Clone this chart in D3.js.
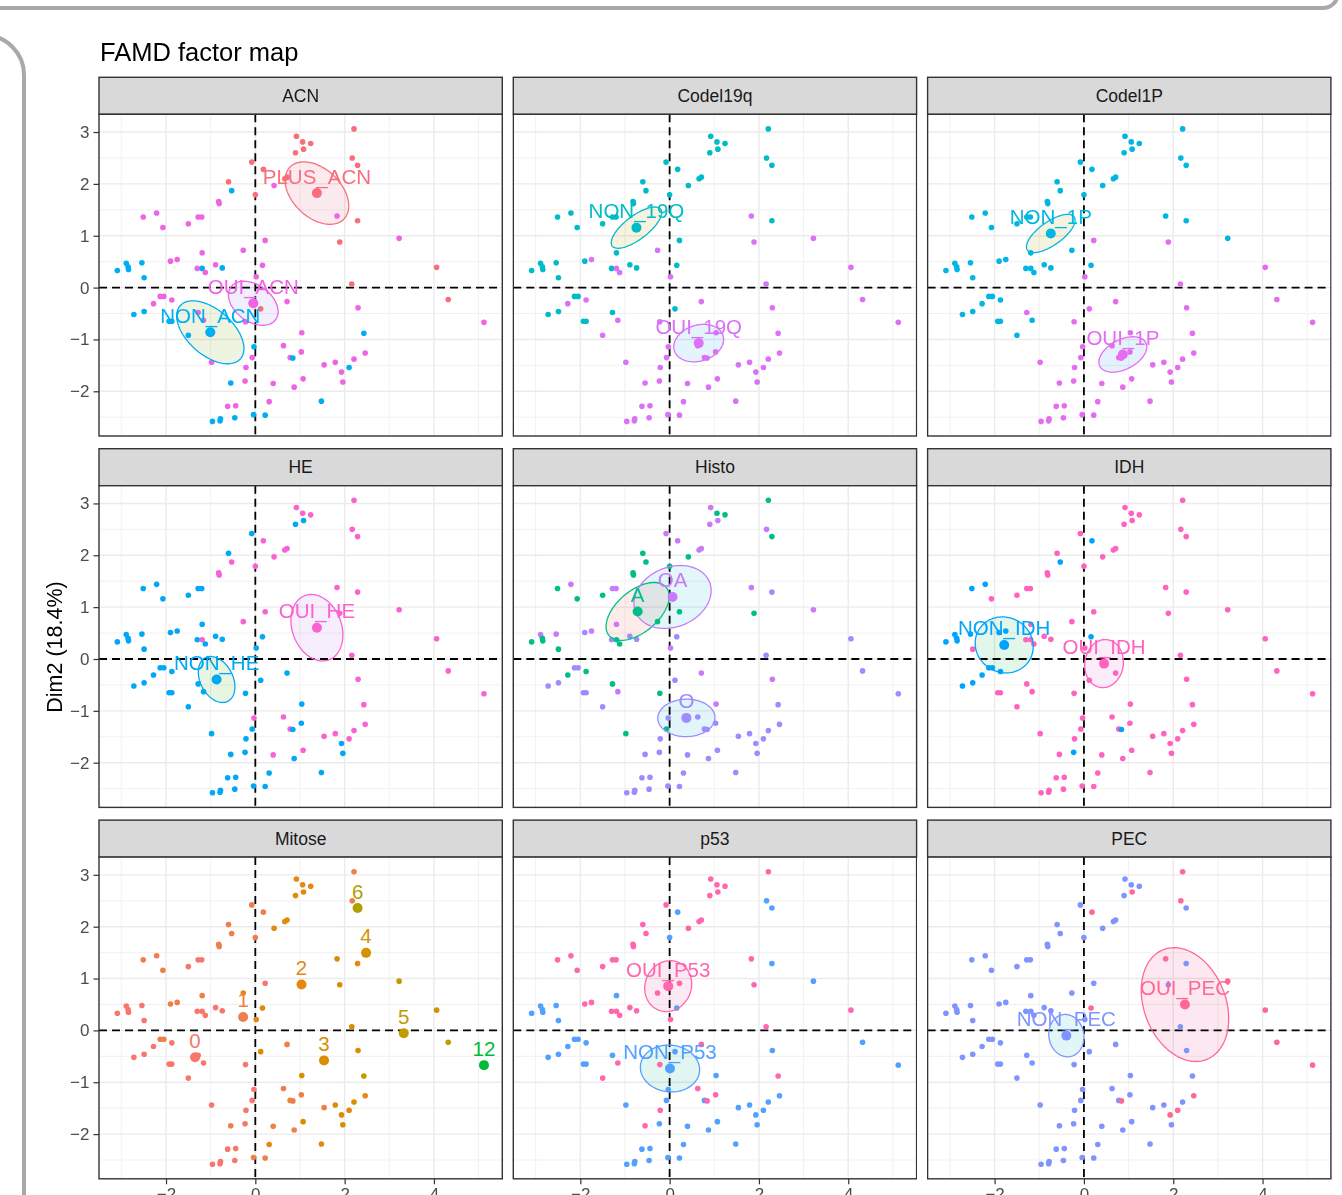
<!DOCTYPE html>
<html>
<head>
<meta charset="utf-8">
<script src="https://cdn.jsdelivr.net/npm/d3@7"></script>
<style>
  body { margin: 0; background: #fff; }
  svg { display: block; font-family: "Liberation Sans", Arial, sans-serif; }
</style>
</head>
<body>
<svg id="chart" width="1342" height="1195"></svg>
<script>
// individual coordinates on the first two FAMD dimensions
var dim1 = [2.21,0.92,1.06,1.24,0.90,1.08,2.17,2.29,-0.08,0.18,
  -0.60,-0.53,0.00,0.42,0.66,0.71,-0.82,-0.81,-2.21,-2.51,
  -2.07,-1.50,-1.28,-1.20,-1.19,0.22,2.29,1.83,1.89,3.22,
  -0.27,0.16,-1.75,-1.90,-2.54,-2.89,-2.85,-2.84,-3.09,-2.49,
  -1.30,-1.19,-1.12,-0.89,-0.74,0.02,2.16,4.06,4.32,5.12,
  0.71,2.30,0.12,-2.13,-2.05,-1.87,-2.28,-2.72,-2.49,-1.93,
  -1.87,-1.28,-1.16,-1.50,-0.22,1.04,2.43,-0.03,-0.07,1.03,
  2.46,0.78,0.84,-0.98,-0.21,1.54,1.79,2.21,2.10,1.93,
  1.96,-0.55,-0.23,0.40,1.07,0.87,0.31,1.48,-0.62,-0.44,
  -0.96,-0.79,-0.78,-0.46,-0.04,0.22,0.63];
var dim2 = [3.06,2.92,2.81,2.78,2.60,2.67,2.50,2.36,2.42,2.28,
  2.04,1.87,1.79,1.97,2.10,2.13,1.66,1.62,1.44,1.36,
  1.16,1.23,1.36,1.36,0.67,0.91,1.29,1.38,0.88,0.95,
  0.72,0.43,0.54,0.51,0.48,0.47,0.40,0.35,0.33,0.19,
  0.37,0.37,0.29,0.44,0.38,0.21,0.07,0.39,-0.23,-0.67,
  -0.27,-0.39,-0.41,-0.17,-0.17,-0.24,-0.31,-0.52,-0.46,-0.65,
  -0.65,-0.48,-0.63,-0.92,-0.66,-0.87,-0.88,-1.14,-1.35,-1.24,
  -1.26,-1.35,-1.36,-1.44,-1.54,-1.49,-1.44,-1.38,-1.54,-1.63,
  -1.82,-1.84,-1.80,-1.85,-1.76,-1.92,-2.20,-2.19,-2.29,-2.28,
  -2.58,-2.57,-2.53,-2.51,-2.45,-2.46,-1.12];

// one code per individual for each qualitative variable (10 individuals per chunk)
var acn = ["PPPPPPPPPP","PNPOPPOOOO","OOOOOOPOPO","OOOONNNNNN","ONOONOPPPO",
  "OOPOOOONNN","NOONOONNOO","OONOOOOONO","ONOOOOONOO","NNNNNNO"].join("");
var codel19q = ["NNNNNNNNNN","NNNNNNNNNN","NNNNNNNOOO","ONONNNNNNN","NOONNOOOOO",
  "OONNNOONNN","NNOOOOOOOO","OOOOOOOOOO","OOOOOOOOOO","OOOOOOO"].join("");
var codel1p = ["NNNNNNNNNN","NNNNNNNNNN","NNNNNONNON","NNNNNNNNNN","NNNNNOOOOO",
  "OOONNNNNNN","NONNOOOOOO","OOOOOOOOOO","OOOOOOOOOO","OOOOOOO"].join("");
var he = ["OOOONNOONO","NOOOOOOONN","NNNNNOOOOO","ONNNNNNNNN","NONNNNOOOO",
  "NONNNNNNNN","NNNNNNOONN","OONNNOOOON","NNNOONNNNN","NNNNNNO"].join("");
var histo = ["AVAAVVVAVV","AAAAVVAAVA","AAVVVAOVAV","AOVOVVAAAA","OAAOOVOOOO",
  "VVOOOAAOOO","OAVOAVOOAO","OOOAOOOOOO","OOOOOOOOOO","OOOOOOO"].join("");
var idh = ["OOOOOOOOON","ONOOOOOONN","OOOOOOOOOO","ONNNNNNNNO","OOOOOOOOOO",
  "OOONNNNNNO","OOOOOOOOOO","OONOOOOOOO","OONOOOOOOO","OOOOOOO"].join("");
var mitose = [1,2,2,2,4,2,1,6,1,1, 1,1,1,2,2,2,1,1,1,1, 1,0,0,0,1,0,2,3,3,5,
  2,3,1,1,0,0,0,0,0,0, 0,0,0,0,0,2,3,4,5,12, 1,3,3,1,1,0,0,0,0,0,
  0,0,0,0,0,3,5,0,0,1, 2,1,1,0,0,1,3,3,2,3, 3,1,0,1,3,1,2,2,0,0,
  0,0,0,0,1,1,1];
var p53 = ["OOOOOONNON","OONOOOOOOO","OOOONONOON","ONOONNNNNN","OOOOOOOONN",
  "ONNNNNNNNN","NNOOONONNO","NNONONNNNN","NONNNNNNNN","NNNNNNO"].join("");
var pec = ["ONNNNOONNO","NNNNNNNNNN","NNNNNNNONO","NONNNNNNNN","NNNNNNNOOO",
  "NNNNNNNNNN","NNNNNNNNNN","ONONNNNNOO","NNNNNNNNNN","NNNNNNN"].join("");

var xTicks = [-2, 0, 2, 4];
var yTicks = [-2, -1, 0, 1, 2, 3];

var facets = [
  { name: "ACN", codes: acn, levels: { N: "NON_ACN", O: "OUI_ACN", P: "PLUS_ACN" }, ellipse: true },
  { name: "Codel19q", codes: codel19q, levels: { N: "NON_19Q", O: "OUI_19Q" }, ellipse: true },
  { name: "Codel1P", codes: codel1p, levels: { N: "NON_1P", O: "OUI_1P" }, ellipse: true },
  { name: "HE", codes: he, levels: { N: "NON_HE", O: "OUI_HE" }, ellipse: true },
  { name: "Histo", codes: histo, levels: { A: "A", V: "OA", O: "O" }, ellipse: true },
  { name: "IDH", codes: idh, levels: { N: "NON_IDH", O: "OUI_IDH" }, ellipse: true },
  { name: "Mitose", codes: mitose, levels: null, ellipse: false },
  { name: "p53", codes: p53, levels: { N: "NON_P53", O: "OUI_P53" }, ellipse: true },
  { name: "PEC", codes: pec, levels: { N: "NON_PEC", O: "OUI_PEC" }, ellipse: true }
];

var catColor = {
  "PLUS_ACN": "#F96E7D", "OUI_ACN": "#F064E4", "NON_ACN": "#00AEF2",
  "NON_19Q": "#00BCC6", "OUI_19Q": "#DA71F8",
  "NON_1P": "#00B6E2", "OUI_1P": "#E56CF2",
  "NON_HE": "#00A8F5", "OUI_HE": "#FA62D2",
  "A": "#00BF86", "O": "#9C8CFF", "OA": "#C97AFB",
  "NON_IDH": "#00A4FF", "OUI_IDH": "#FF62C0",
  "0": "#F8766D", "1": "#F07E4A", "2": "#E4880F", "3": "#DA8D00",
  "4": "#D49100", "5": "#C39A00", "6": "#AFA000", "12": "#00BA38",
  "NON_P53": "#52A0FF", "OUI_P53": "#FF66AE",
  "NON_PEC": "#7F94FF", "OUI_PEC": "#FF6894"
};
var catFill = {
  "PLUS_ACN": "#FCEBEE", "OUI_ACN": "#F1EFFC", "NON_ACN": "#EFF4E1",
  "NON_19Q": "#F7F3E0", "OUI_19Q": "#E3F4FC",
  "NON_1P": "#F5F3DF", "OUI_1P": "#E5F1FC",
  "NON_HE": "#E8F5E2", "OUI_HE": "#F6EEFD",
  "A": "#FDECE9", "OA": "#E1F7FA", "O": "#E1F5FA",
  "NON_IDH": "#E3F6EA", "OUI_IDH": "#FCEBF8",
  "NON_P53": "#E2F6F1", "OUI_P53": "#FCE9F4",
  "NON_PEC": "#E1F7F7", "OUI_PEC": "#FDE8F1"
};

var svg = d3.select("#chart");

// page frame around the plot
svg.append("path")
  .attr("d", "M-5,8 H1323 A15,15 0 0 0 1338,-7")
  .attr("fill", "none").attr("stroke", "#A9A9A9").attr("stroke-width", 4);
svg.append("path")
  .attr("d", "M-30,35 H-16 A40,40 0 0 1 24,75 V1200")
  .attr("fill", "none").attr("stroke", "#A9A9A9").attr("stroke-width", 4);

// layout
var panelLeft = 99, colStep = 414.3, panelW = 403.3;
var stripTop = 77.3, rowStep = 371.4, stripH = 37, panelH = 321.7;

// shared scales, 5% expansion like ggplot
var xExt = d3.extent(dim1), yExt = d3.extent(dim2);
var xPad = (xExt[1] - xExt[0]) * 0.05, yPad = (yExt[1] - yExt[0]) * 0.05;
var x = d3.scaleLinear().domain([xExt[0] - xPad, xExt[1] + xPad]).range([0, panelW]);
var y = d3.scaleLinear().domain([yExt[0] - yPad, yExt[1] + yPad]).range([panelH, 0]);

var xMinor = d3.range(Math.ceil(x.domain()[0]), x.domain()[1], 1).filter(function (v) { return xTicks.indexOf(v) < 0; });
var yMinor = d3.range(Math.ceil(y.domain()[0] * 2) / 2, y.domain()[1], 0.5).filter(function (v) { return yTicks.indexOf(v) < 0; });

var line = d3.line().x(function (d) { return x(d[0]); }).y(function (d) { return y(d[1]); });
var fmt = d3.format("d");

// confidence ellipse of the barycentre (cov / n, chi2 2 df, 95%)
function ellipsePoints(pts) {
  var n = pts.length;
  var mx = d3.mean(pts, function (p) { return p[0]; });
  var my = d3.mean(pts, function (p) { return p[1]; });
  var sxx = 0, syy = 0, sxy = 0;
  pts.forEach(function (p) {
    sxx += (p[0] - mx) * (p[0] - mx);
    syy += (p[1] - my) * (p[1] - my);
    sxy += (p[0] - mx) * (p[1] - my);
  });
  var k = (n - 1) * n;
  sxx /= k; syy /= k; sxy /= k;
  var a = Math.sqrt(sxx), b = sxy / a, c = Math.sqrt(Math.max(syy - b * b, 0));
  var t = Math.sqrt(5.991);
  return d3.range(0, 121).map(function (i) {
    var th = 2 * Math.PI * i / 120, u = Math.cos(th), v = Math.sin(th);
    return [mx + t * a * u, my + t * (b * u + c * v)];
  });
}

facets.forEach(function (f, fi) {
  var col = fi % 3, row = Math.floor(fi / 3);
  var left = panelLeft + col * colStep;
  var sTop = stripTop + row * rowStep;
  var pTop = sTop + stripH;

  var label = function (i) {
    var code = f.codes[i];
    return f.levels ? f.levels[code] : String(code);
  };
  var data = dim1.map(function (d, i) { return { x: d, y: dim2[i], cat: label(i) }; });

  // strip
  svg.append("rect")
    .attr("x", left).attr("y", sTop).attr("width", panelW).attr("height", stripH)
    .attr("fill", "#D9D9D9").attr("stroke", "#333").attr("stroke-width", 1.4);
  svg.append("text")
    .attr("x", left + panelW / 2).attr("y", sTop + stripH / 2)
    .attr("text-anchor", "middle").attr("dominant-baseline", "central")
    .attr("font-size", 17.5).attr("fill", "#1A1A1A")
    .text(f.name);

  var g = svg.append("g").attr("transform", "translate(" + left + "," + pTop + ")");
  g.append("rect").attr("width", panelW).attr("height", panelH).attr("fill", "#fff");

  // grid
  g.selectAll(".xminor").data(xMinor).enter().append("line")
    .attr("x1", x).attr("x2", x).attr("y1", 0).attr("y2", panelH)
    .attr("stroke", "#EBEBEB").attr("stroke-width", 0.7);
  g.selectAll(".yminor").data(yMinor).enter().append("line")
    .attr("y1", y).attr("y2", y).attr("x1", 0).attr("x2", panelW)
    .attr("stroke", "#EBEBEB").attr("stroke-width", 0.7);
  g.selectAll(".xmajor").data(xTicks).enter().append("line")
    .attr("x1", x).attr("x2", x).attr("y1", 0).attr("y2", panelH)
    .attr("stroke", "#EBEBEB").attr("stroke-width", 1.4);
  g.selectAll(".ymajor").data(yTicks).enter().append("line")
    .attr("y1", y).attr("y2", y).attr("x1", 0).attr("x2", panelW)
    .attr("stroke", "#EBEBEB").attr("stroke-width", 1.4);

  // reference lines
  g.append("line").attr("x1", 0).attr("x2", panelW).attr("y1", y(0)).attr("y2", y(0))
    .attr("stroke", "#000").attr("stroke-width", 1.8).attr("stroke-dasharray", "8,5");
  g.append("line").attr("y1", 0).attr("y2", panelH).attr("x1", x(0)).attr("x2", x(0))
    .attr("stroke", "#000").attr("stroke-width", 1.8).attr("stroke-dasharray", "8,5");

  var groups = d3.groups(data, function (d) { return d.cat; });

  // ellipse fills
  if (f.ellipse) {
    groups.forEach(function (gr) {
      var pts = gr[1].map(function (d) { return [d.x, d.y]; });
      if (pts.length < 3) return;
      gr.ell = ellipsePoints(pts);
      g.append("path").attr("d", line(gr.ell))
        .attr("fill", catFill[gr[0]] || "#eee")
        .style("mix-blend-mode", "multiply")
        .attr("stroke", "none");
    });
  }

  // individuals
  g.selectAll(".ind").data(data).enter().append("circle")
    .attr("cx", function (d) { return x(d.x); })
    .attr("cy", function (d) { return y(d.y); })
    .attr("r", 2.8)
    .attr("fill", function (d) { return catColor[d.cat] || "#999"; });

  // ellipse outlines
  groups.forEach(function (gr) {
    if (!gr.ell) return;
    g.append("path").attr("d", line(gr.ell))
      .attr("fill", "none").attr("stroke", catColor[gr[0]]).attr("stroke-width", 1.3);
  });

  // category barycentres and labels
  groups.forEach(function (gr) {
    var mx = d3.mean(gr[1], function (d) { return d.x; });
    var my = d3.mean(gr[1], function (d) { return d.y; });
    g.append("circle").attr("cx", x(mx)).attr("cy", y(my)).attr("r", 5)
      .attr("fill", catColor[gr[0]]);
    g.append("text").attr("x", x(mx)).attr("y", y(my) - 17)
      .attr("text-anchor", "middle").attr("dominant-baseline", "central")
      .attr("font-size", 20.5).attr("fill", catColor[gr[0]])
      .text(gr[0]);
  });

  // panel border
  g.append("rect").attr("width", panelW).attr("height", panelH)
    .attr("fill", "none").attr("stroke", "#333").attr("stroke-width", 1.4);

  // axes
  if (col === 0) {
    var ya = g.append("g").call(d3.axisLeft(y).tickValues(yTicks).tickFormat(fmt).tickSize(5.5).tickPadding(4));
    ya.select(".domain").remove();
    ya.selectAll("line").attr("stroke", "#333").attr("stroke-width", 1.2);
    ya.selectAll("text").attr("font-size", 17).attr("fill", "#4D4D4D")
      .attr("font-family", "Liberation Sans, Arial, sans-serif");
  }
  if (row === 2) {
    var xa = g.append("g").attr("transform", "translate(0," + panelH + ")")
      .call(d3.axisBottom(x).tickValues(xTicks).tickFormat(fmt).tickSize(5.5).tickPadding(4));
    xa.select(".domain").remove();
    xa.selectAll("line").attr("stroke", "#333").attr("stroke-width", 1.2);
    xa.selectAll("text").attr("font-size", 17).attr("fill", "#4D4D4D")
      .attr("font-family", "Liberation Sans, Arial, sans-serif");
  }
});

// titles
svg.append("text")
  .attr("x", 100).attr("y", 61)
  .attr("font-size", 25.5).attr("fill", "#000")
  .text("FAMD factor map");
svg.append("text")
  .attr("transform", "translate(62,647) rotate(-90)")
  .attr("text-anchor", "middle")
  .attr("font-size", 21.5).attr("fill", "#000")
  .text("Dim2 (18.4%)");
</script>
</body>
</html>
